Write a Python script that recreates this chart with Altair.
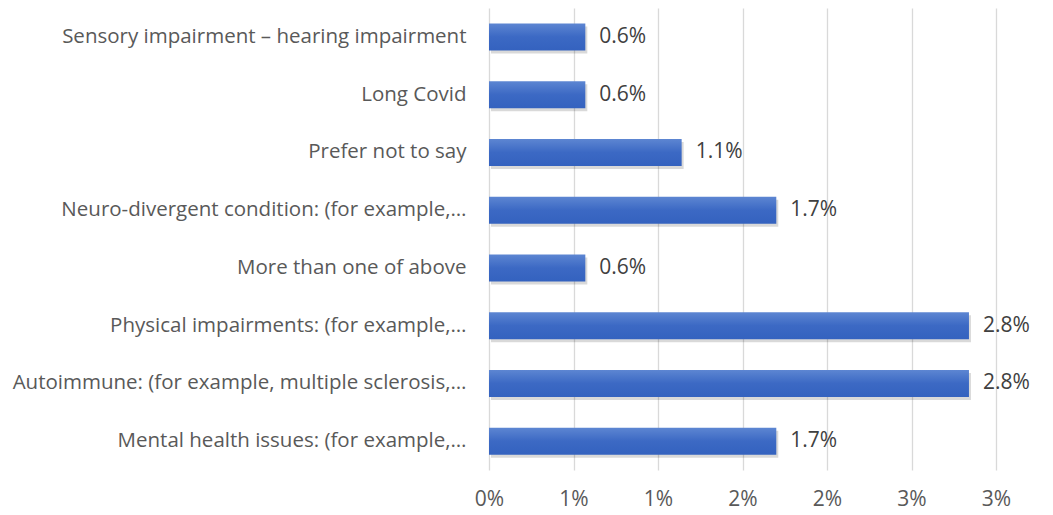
import altair as alt
import pandas as pd

categories = [
    "Sensory impairment – hearing impairment",
    "Long Covid\u00a0",
    "Prefer not to say\u00a0",
    "Neuro-divergent condition: (for example,…",
    "More than one of above",
    "Physical impairments: (for example,…",
    "Autoimmune: (for example, multiple sclerosis,…",
    "Mental health issues: (for example,…",
]
values = [0.57, 0.57, 1.14, 1.70, 0.57, 2.84, 2.84, 1.70]
x_ticks = [0, 0.5, 1, 1.5, 2, 2.5, 3]

df = pd.DataFrame({"category": categories, "value": values})

FONT = "Open Sans"

y = alt.Y(
    "category:N",
    sort=categories,
    scale=alt.Scale(paddingInner=0.5, paddingOuter=0.25),
    axis=alt.Axis(
        title=None, domain=False, ticks=False,
        labelFont=FONT, labelFontSize=20.5, labelColor="#595959",
        labelPadding=23, labelLimit=0,
    ),
)
x = alt.X(
    "value:Q",
    scale=alt.Scale(domain=[0, 3], nice=False),
    axis=alt.Axis(
        values=x_ticks, labelExpr="round(datum.value) + '%'",
        title=None, domain=False, ticks=False, grid=True,
        gridColor="#d9d9d9", gridWidth=1.3,
        labelFont=FONT, labelFontSize=21, labelColor="#595959",
        labelPadding=18, labelFlush=False,
    ),
)

base = alt.Chart(df)

shadow = base.mark_bar(color="#000000", opacity=0.15, size=27, xOffset=2, yOffset=3).encode(x=x, y=y)

bars = base.mark_bar(
    size=27,
    color=alt.Gradient(
        gradient="linear", x1=0, y1=0, x2=0, y2=1,
        stops=[
            alt.GradientStop(color="#5D86D2", offset=0),
            alt.GradientStop(color="#3C69C4", offset=0.5),
            alt.GradientStop(color="#3462BF", offset=1),
        ],
    ),
).encode(x=x, y=y)

labels = base.transform_calculate(
    label="format(datum.value, '.1f') + '%'"
).mark_text(
    align="left", baseline="middle", dx=14,
    font=FONT, fontSize=21, color="#404040",
).encode(x=x, y=y, text="label:N")

chart = alt.layer(shadow, bars, labels).properties(
    width=507,
    height=462,
    autosize=alt.AutoSizeParams(type="none"),
    padding={"left": 481, "top": 0, "right": 49, "bottom": 46},
    background="white",
).configure_view(stroke=None)

chart.save("out.html", embed_options={"renderer": "svg", "actions": False})
